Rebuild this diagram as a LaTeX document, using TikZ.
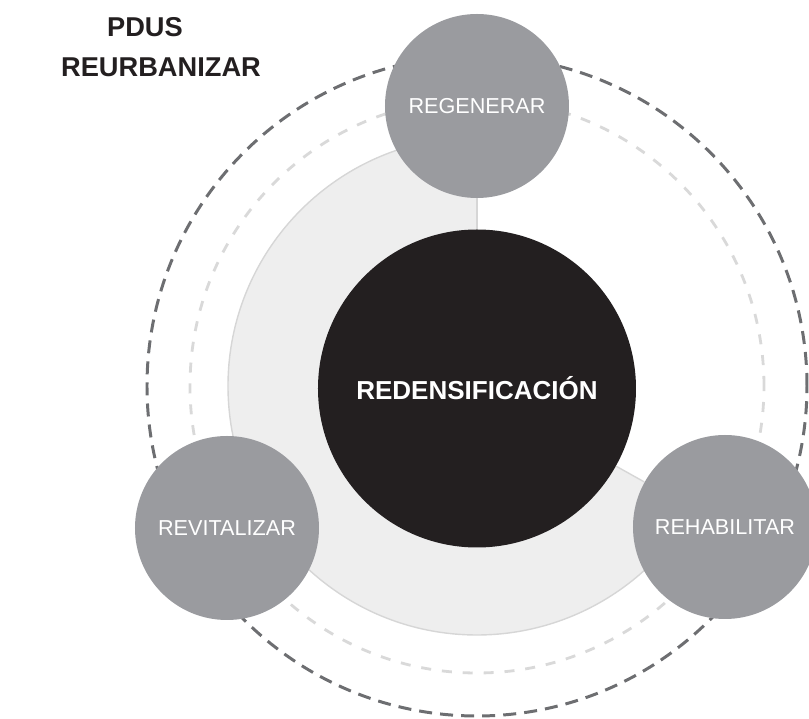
\documentclass[tikz,border=0pt]{standalone}
\usepackage{fontspec}
\setmainfont{Liberation Sans}
\usepackage{tikz}
\usetikzlibrary{positioning}

\definecolor{discgray}{HTML}{EEEEEE}
\definecolor{discline}{HTML}{D6D6D6}
\definecolor{satgray}{HTML}{9A9B9F}
\definecolor{coreblack}{HTML}{231F20}
\definecolor{darkdash}{HTML}{6D6E71}
\definecolor{lightdash}{HTML}{D9D9D9}

\begin{document}
\begin{tikzpicture}[
    satellite/.style={circle,fill=satgray,minimum size=3.68cm,inner sep=0pt,
                      text=white,font=\fontsize{12.3}{14}\selectfont},
    core/.style={circle,fill=coreblack,minimum size=6.36cm,inner sep=0pt,
                 text=white,font=\fontsize{14.8}{17}\selectfont\bfseries},
    ringdark/.style={darkdash,line width=1.7pt,dash pattern=on 7.4pt off 4.6pt},
    ringlight/.style={lightdash,line width=1.6pt,dash pattern=on 5.7pt off 6.2pt},
    spoke/.style={discline,line width=0.8pt},
    heading/.style={font=\fontsize{15.5}{18}\selectfont\bfseries,text=coreblack,inner sep=0pt}]

    \useasboundingbox (-9.54,-6.66) rectangle (6.64,7.72);

    %outer rings
    \draw[ringdark] (0,0) circle (6.6);
    \draw[ringlight] (0,0) circle (5.74);

    %shaded sector, 90 to 330 degrees
    \fill[discgray] (0,0) -- (90:4.98) arc[start angle=90,end angle=330,radius=4.98] -- cycle;
    \draw[spoke] (90:4.98) arc[start angle=90,end angle=330,radius=4.98];

    %nodes
    \node[core] (redens) at (0,-0.05) {REDENSIFICACI\'ON};
    \node[satellite] (regen) at (0,5.6) {REGENERAR};
    \node[satellite] (revit) at (-5.0,-2.84) {REVITALIZAR};
    \node[satellite] (rehab) at (4.96,-2.82) {REHABILITAR};

    %sector edges
    \draw[spoke] (redens) -- (regen);
    \draw[spoke] (redens) -- (rehab);

    %title
    \node[heading] (reurb) at (-6.32,6.38) {REURBANIZAR};
    \node[heading] (pdus) at (-6.64,7.18) {PDUS};

\end{tikzpicture}
\end{document}
